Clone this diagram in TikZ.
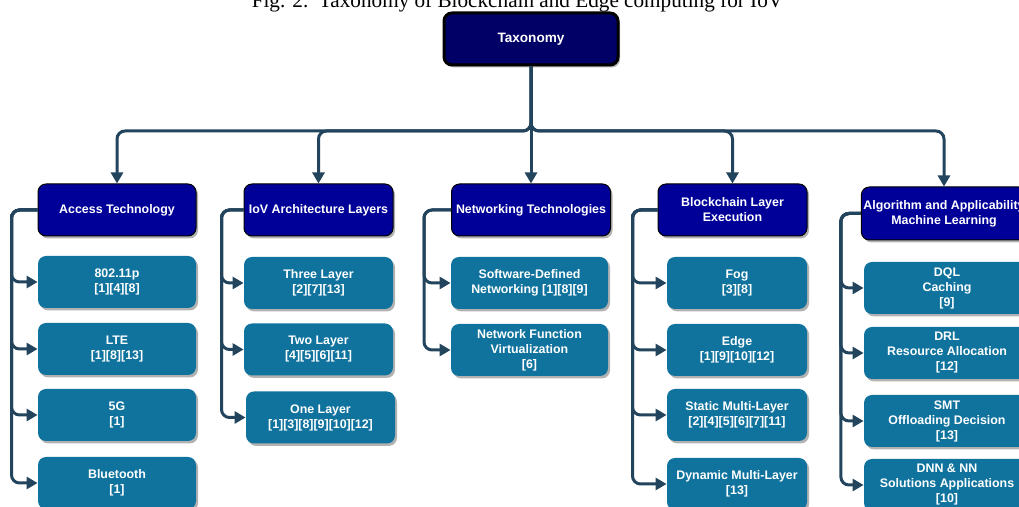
\documentclass[tikz,border=0pt]{standalone}
\usepackage{fontspec}
\setmainfont{Liberation Serif}
\setsansfont{Liberation Sans}
\usepackage{xcolor}
\usepackage{tikz}
\usetikzlibrary{arrows.meta,shadows}

\definecolor{taxnavy}{HTML}{000066}
\definecolor{catblue}{HTML}{000099}
\definecolor{leafteal}{HTML}{10739E}
\definecolor{linkdark}{HTML}{23445D}

\tikzset{
  boxbase/.style={rounded corners=4pt, align=center, text=white, inner sep=1pt,
    font=\sffamily\bfseries\fontsize{6.2}{7.5}\selectfont,
    drop shadow={shadow xshift=1pt, shadow yshift=-1.2pt, opacity=0.3, fill=black}},
  taxbox/.style={boxbase, draw=black, line width=1.5pt, fill=taxnavy,
    minimum width=87pt, minimum height=26pt,
    font=\sffamily\bfseries\fontsize{6.8}{8}\selectfont},
  catbox/.style={boxbase, draw=black, line width=0.5pt, fill=catblue, minimum height=26pt},
  leafbox/.style={boxbase, fill=leafteal, minimum height=26pt},
  link/.style={->, draw=linkdark, line width=1.5pt, rounded corners=4pt},
}

\begin{document}
\begin{tikzpicture}[x=0.5pt,y=-0.5pt,>={Triangle[width=6pt,length=5.5pt]}]
    \path[use as bounding box, fill=white] (0,0) rectangle (1019,507);
    % Caption
    \node[font=\rmfamily\fontsize{10.6}{12}\selectfont, anchor=base] (caption) at (517.5,7.5)
        {Fig. 2.\ \ Taxonomy of Blockchain and Edge computing for IoV};

    % Root
    \node[taxbox] (tax) at (531,39) {Taxonomy};

    % Categories
    \node[catbox, minimum width=79pt] (acc) at (117,210) {Access Technology};
    \node[catbox, minimum width=74.5pt] (arch) at (318.5,210) {IoV Architecture Layers};
    \node[catbox, minimum width=79.5pt] (net) at (531,210) {Networking Technologies};
    \node[catbox, minimum width=74.5pt] (chain) at (732.5,210) {Blockchain Layer\\Execution};
    \node[catbox, minimum width=82pt, minimum height=26.5pt] (algo) at (944,213.5)
        {Algorithm and Applicability\\Machine Learning};

    % Access technology
    \node[leafbox, minimum width=79pt] (acc1) at (117,282) {802.11p\\{}[1][4][8]};
    \node[leafbox, minimum width=79pt] (acc2) at (117,349) {LTE\\{}[1][8][13]};
    \node[leafbox, minimum width=79pt] (acc3) at (117,415) {5G\\{}[1]};
    \node[leafbox, minimum width=79pt] (acc4) at (117,483) {Bluetooth\\{}[1]};

    % Architecture layers
    \node[leafbox, minimum width=74.5pt] (arch1) at (318.5,283) {Three Layer\\{}[2][7][13]};
    \node[leafbox, minimum width=74.5pt] (arch2) at (318.5,349.5) {Two Layer\\{}[4][5][6][11]};
    \node[leafbox, minimum width=74.5pt] (arch3) at (320.5,417.5) {One Layer\\{}[1][3][8][9][10][12]};

    % Networking
    \node[leafbox, minimum width=78.5pt] (net1) at (529.5,283) {Software-Defined\\Networking [1][8][9]};
    \node[leafbox, minimum width=78.5pt] (net2) at (529.5,350) {Network Function\\Virtualization\\{}[6]};

    % Blockchain layer
    \node[leafbox, minimum width=70pt] (chain1) at (737,283) {Fog\\{}[3][8]};
    \node[leafbox, minimum width=70pt] (chain2) at (737,350) {Edge\\{}[1][9][10][12]};
    \node[leafbox, minimum width=70pt] (chain3) at (737,415) {Static Multi-Layer\\{}[2][4][5][6][7][11]};
    \node[leafbox, minimum width=70pt] (chain4) at (737,484) {Dynamic Multi-Layer\\{}[13]};

    % Machine learning
    \node[leafbox, minimum width=83pt] (algo1) at (947,288) {DQL\\Caching\\{}[9]};
    \node[leafbox, minimum width=83pt] (algo2) at (947,353) {DRL\\Resource Allocation\\{}[12]};
    \node[leafbox, minimum width=83pt] (algo3) at (947,421) {SMT\\Offloading Decision\\{}[13]};
    \node[leafbox, minimum width=83pt] (algo4) at (947,485) {DNN \& NN\\Solutions Applications\\{}[10]};

    % Root to categories
    \coordinate (bus) at (531,131);
    \draw[link] (tax.south) -- (bus) -| (acc.north);
    \draw[link] (tax.south) -- (bus) -| (arch.north);
    \draw[link] (tax.south) -- (net.north);
    \draw[link] (tax.south) -- (bus) -| (chain.north);
    \draw[link] (tax.south) -- (bus) -| (algo.north);

    % Categories to leaves
    \foreach \i in {1,...,4}
        \draw[link] (acc.west) -- ++(-26,0) |- (acc\i.west);
    \foreach \i in {1,...,3}
        \draw[link] (arch.west) -- ++(-22,0) |- (arch\i.west);
    \foreach \i in {1,2}
        \draw[link] (net.west) -- ++(-27,0) |- (net\i.west);
    \foreach \i in {1,...,4}
        \draw[link] (chain.west) -- ++(-25,0) |- (chain\i.west);
    \foreach \i in {1,...,4}
        \draw[link] (algo.west) -- ++(-20,0) |- (algo\i.west);
\end{tikzpicture}
\end{document}
